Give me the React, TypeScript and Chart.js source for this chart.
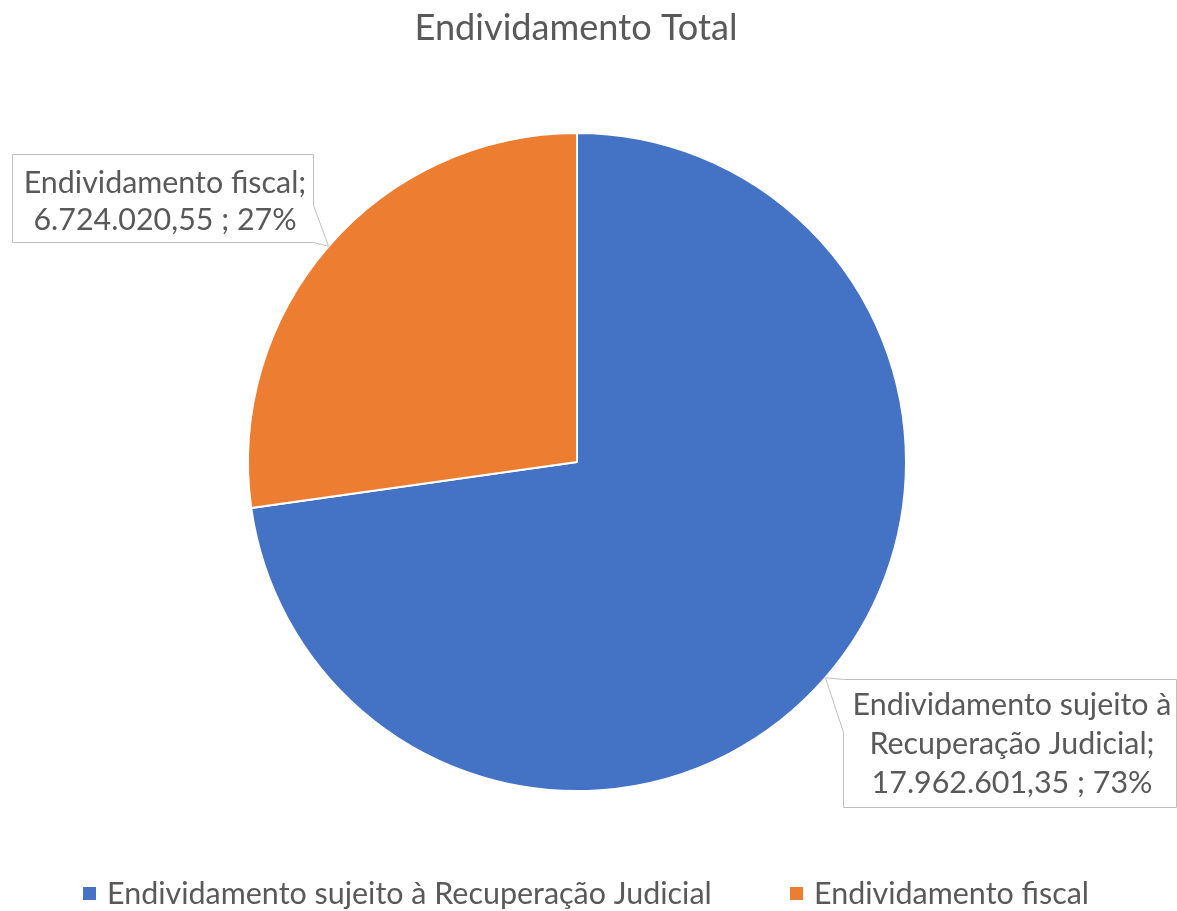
import React, { useEffect, useRef } from "react";
import { Chart, registerables } from "chart.js";

Chart.register(...registerables);

const chartTitle = "Endividamento Total";
const categories = ["Endividamento sujeito à Recuperação Judicial", "Endividamento fiscal"];
const values = [17962601.35, 6724020.55];
const sliceColors = ["#4472C4", "#ED7D31"];
const labelNameLines = [["Endividamento sujeito à", "Recuperação Judicial;"], ["Endividamento fiscal;"]];

const FONT = "Lato, 'Open Sans', sans-serif";
const TEXT = "#595959";

function formatBR(v: number): string {
  const [i, d] = v.toFixed(2).split(".");
  return i.replace(/\B(?=(\d{3})+(?!\d))/g, ".") + "," + d;
}

function fitSize(ctx: CanvasRenderingContext2D, text: string, target: number): number {
  ctx.font = `100px ${FONT}`;
  const w = ctx.measureText(text).width;
  return (100 * target) / w;
}

const overlay = {
  id: "overlay",
  afterDraw(chart: any) {
    const ctx: CanvasRenderingContext2D = chart.ctx;
    const total = values.reduce((a, b) => a + b, 0);
    ctx.save();
    // title
    const ts = fitSize(ctx, chartTitle, 323);
    ctx.font = `${ts}px ${FONT}`;
    ctx.fillStyle = TEXT;
    ctx.textAlign = "center";
    ctx.textBaseline = "alphabetic";
    ctx.fillText(chartTitle, 576, 40);

    // legend
    const ls = fitSize(ctx, categories[0], 605);
    const legendX = [83, 790];
    categories.forEach((c, i) => {
      ctx.fillStyle = sliceColors[i];
      ctx.fillRect(legendX[i], 887, 13, 13);
      ctx.fillStyle = TEXT;
      ctx.font = `${ls}px ${FONT}`;
      ctx.textAlign = "left";
      ctx.fillText(c, legendX[i] + 24, 904);
    });

    // callouts
    const meta = chart.getDatasetMeta(0);
    const lbs = fitSize(ctx, labelNameLines[0][0], 319);
    const boxes = [
      { x1: 843, y1: 679, x2: 1176, y2: 807, cx: 1012, base: [715, 754, 793] },
      { x1: 12, y1: 154, x2: 313, y2: 242, cx: 165, base: [193, 230] },
    ];
    meta.data.forEach((arc: any, i: number) => {
      const p = arc.getProps(["x", "y", "startAngle", "endAngle", "outerRadius"], true);
      const mid = (p.startAngle + p.endAngle) / 2;
      const ax = p.x + Math.cos(mid) * p.outerRadius;
      const ay = p.y + Math.sin(mid) * p.outerRadius;
      const b = boxes[i];
      ctx.beginPath();
      if (i === 0) {
        ctx.moveTo(b.x1 + 0.5, 732.5);
        ctx.lineTo(ax, ay);
        ctx.lineTo(b.x1 + 0.5, b.y1 + 0.5);
        ctx.lineTo(b.x2 + 0.5, b.y1 + 0.5);
        ctx.lineTo(b.x2 + 0.5, b.y2 + 0.5);
        ctx.lineTo(b.x1 + 0.5, b.y2 + 0.5);
        ctx.closePath();
      } else {
        ctx.moveTo(b.x1 + 0.5, b.y1 + 0.5);
        ctx.lineTo(b.x2 + 0.5, b.y1 + 0.5);
        ctx.lineTo(b.x2 + 0.5, 205.5);
        ctx.lineTo(ax, ay);
        ctx.lineTo(b.x2 + 0.5, b.y2 + 0.5);
        ctx.lineTo(b.x1 + 0.5, b.y2 + 0.5);
        ctx.closePath();
      }
      ctx.fillStyle = "#FFFFFF";
      ctx.fill();
      ctx.strokeStyle = "#BFBFBF";
      ctx.lineWidth = 1;
      ctx.stroke();

      const lines = [...labelNameLines[i], `${formatBR(values[i])} ; ${Math.round((values[i] / total) * 100)}%`];
      ctx.fillStyle = TEXT;
      ctx.font = `${lbs}px ${FONT}`;
      ctx.textAlign = "center";
      lines.forEach((t, k) => ctx.fillText(t, b.cx, b.base[k]));
    });
    ctx.restore();
  },
};

export default function App() {
  const ref = useRef<HTMLCanvasElement | null>(null);
  useEffect(() => {
    document.body.style.margin = "0";
    const chart = new Chart(ref.current!, {
      type: "pie",
      data: {
        labels: categories,
        datasets: [
          {
            data: values,
            backgroundColor: sliceColors,
            borderColor: "#FFFFFF",
            borderWidth: 2,
          },
        ],
      },
      options: {
        animation: false,
        responsive: false,
        devicePixelRatio: 1,
        layout: { padding: { left: 247, right: 270, top: 132, bottom: 119 } },
        plugins: {
          legend: { display: false },
          title: { display: false },
          tooltip: { enabled: false },
        },
      },
      plugins: [overlay],
    });
    return () => chart.destroy();
  }, []);
  return (
    <div style={{ width: 1177, height: 911, background: "#fff" }}>
      <canvas ref={ref} width={1177} height={911} style={{ display: "block" }} />
    </div>
  );
}
